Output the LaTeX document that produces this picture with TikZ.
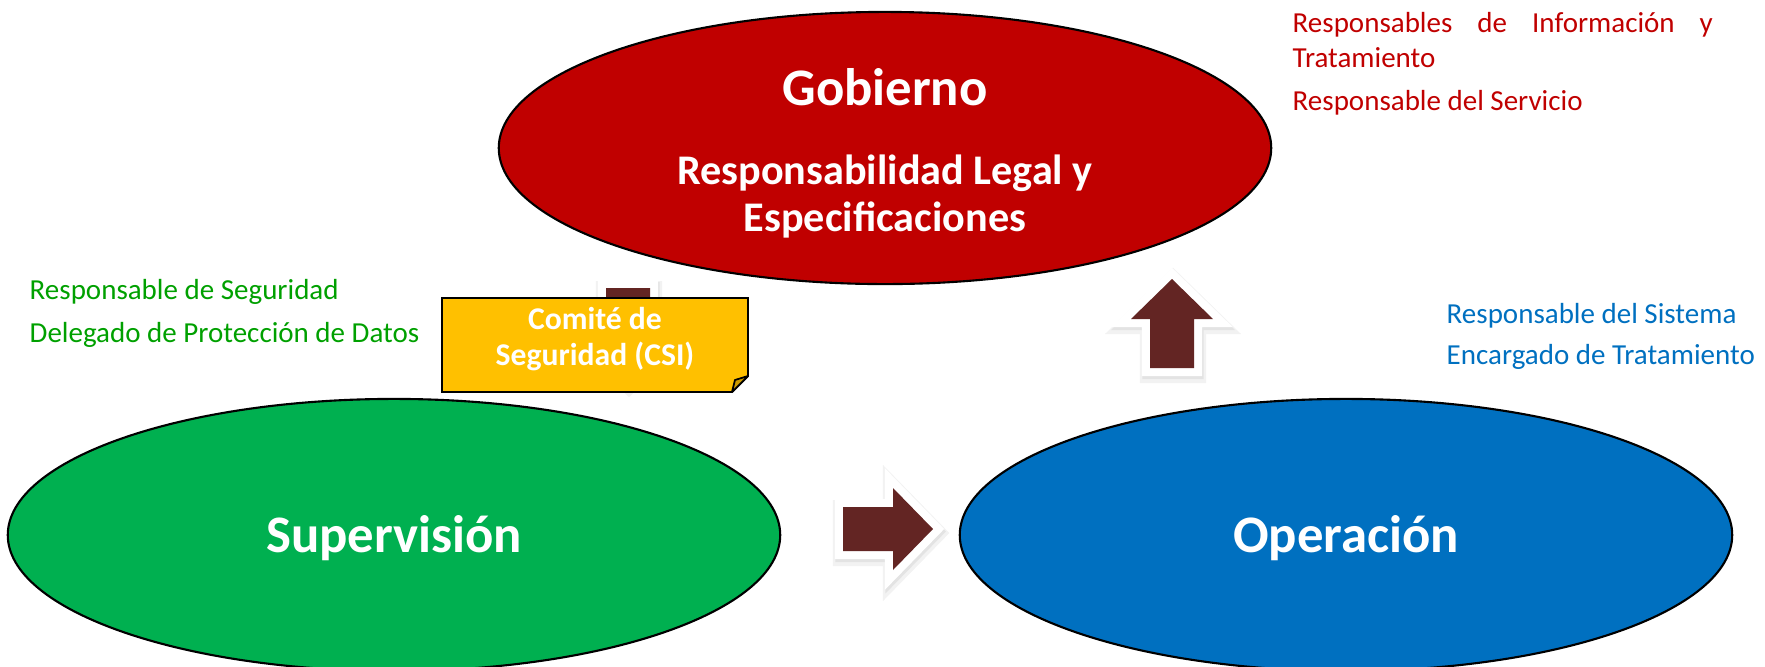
\documentclass[tikz,border=0pt]{standalone}
\usepackage{fontspec}
\setmainfont{Carlito}
\usetikzlibrary{shapes.geometric}

\definecolor{gobred}{HTML}{C00000}
\definecolor{supgreen}{HTML}{00B050}
\definecolor{opblue}{HTML}{0070C0}
\definecolor{rolegreen}{HTML}{00A000}
\definecolor{arrowred}{HTML}{632523}
\definecolor{csiyellow}{HTML}{FFC000}
\definecolor{csifold}{HTML}{CC9A00}

\begin{document}
\begin{tikzpicture}[x=0.01cm, y=-0.01cm,
  area/.style={ellipse, draw=black, line width=0.6pt, minimum width=7.72cm,
       minimum height=2.72cm, inner sep=0pt},
  title/.style={text=white, anchor=base, inner sep=0pt,
       font=\fontsize{15}{18}\selectfont\bfseries},
  subtitle/.style={text=white, anchor=base, inner sep=0pt,
       font=\fontsize{12}{14}\selectfont\bfseries},
  csitext/.style={text=white, anchor=base, inner sep=0pt,
       font=\fontsize{9}{11}\selectfont\bfseries},
  role/.style={anchor=base west, inner sep=0pt,
       font=\fontsize{8.25}{10}\selectfont},
  blockarrow/.style={fill=arrowred,
       preaction={draw=black!5, fill=black!5, line width=0.22cm, line join=miter,
                  transform canvas={xshift=0.01cm, yshift=-0.04cm}},
       preaction={draw=black!11, fill=black!11, line width=0.17cm, line join=miter,
                  transform canvas={xshift=0.01cm, yshift=-0.025cm}},
       preaction={draw=white, fill=white, line width=0.16cm, line join=miter}}]

\useasboundingbox (0,0) rectangle (1765,666);
\clip (0,0) rectangle (1765,666);

% the three areas
\node[area, fill=gobred] (gobierno) at (885,148) {};
\node[area, fill=supgreen] (supervision) at (394,535) {};
\node[area, fill=opblue] (operacion) at (1346,535) {};

\node[title] (gobtitle) at (885,105) {Gobierno};
\node[subtitle] (gobline1) at (885,184) {Responsabilidad Legal y};
\node[subtitle] (gobline2) at (885,231) {Especificaciones};
\node[title] (suptitle) at (394,552) {Supervisión};
\node[title] (optitle) at (1346,552) {Operación};

% block arrows
\path[blockarrow] (606,288) -- (650,288) -- (650,338) -- (670,338) -- (628,378)
  -- (586,338) -- (606,338) -- cycle;
\path[blockarrow] (843,507) -- (893,507) -- (893,488) -- (933,529) -- (893,570)
  -- (893,551) -- (843,551) -- cycle;
\path[blockarrow] (1150,368) -- (1150,319) -- (1131,319) -- (1172,279) -- (1213,319)
  -- (1194,319) -- (1194,368) -- cycle;

% committee note
\draw[fill=csiyellow, line width=0.5pt] (442,298) -- (748,298) -- (748,376)
  -- (732,392) -- (442,392) -- cycle;
\draw[fill=csifold, line width=0.5pt, line join=round] (732,392) -- (735,380) -- (748,376) -- cycle;
\node[csitext] (csi1) at (595,329) {Comité de};
\node[csitext] (csi2) at (595,365) {Seguridad (CSI)};

% roles
\node[role, text=gobred] (rolegob1) at (1292,32)
  {\makebox[4.2cm][s]{Responsables de Información y}};
\node[role, text=gobred] (rolegob2) at (1292,67) {Tratamiento};
\node[role, text=gobred] (rolegob3) at (1292,110) {Responsable del Servicio};

\node[role, text=rolegreen] (rolesup1) at (29,299) {Responsable de Seguridad};
\node[role, text=rolegreen] (rolesup2) at (29,342) {Delegado de Protección de Datos};

\node[role, text=opblue] (roleop1) at (1446,323) {Responsable del Sistema};
\node[role, text=opblue] (roleop2) at (1446,364) {Encargado de Tratamiento};
\end{tikzpicture}
\end{document}
